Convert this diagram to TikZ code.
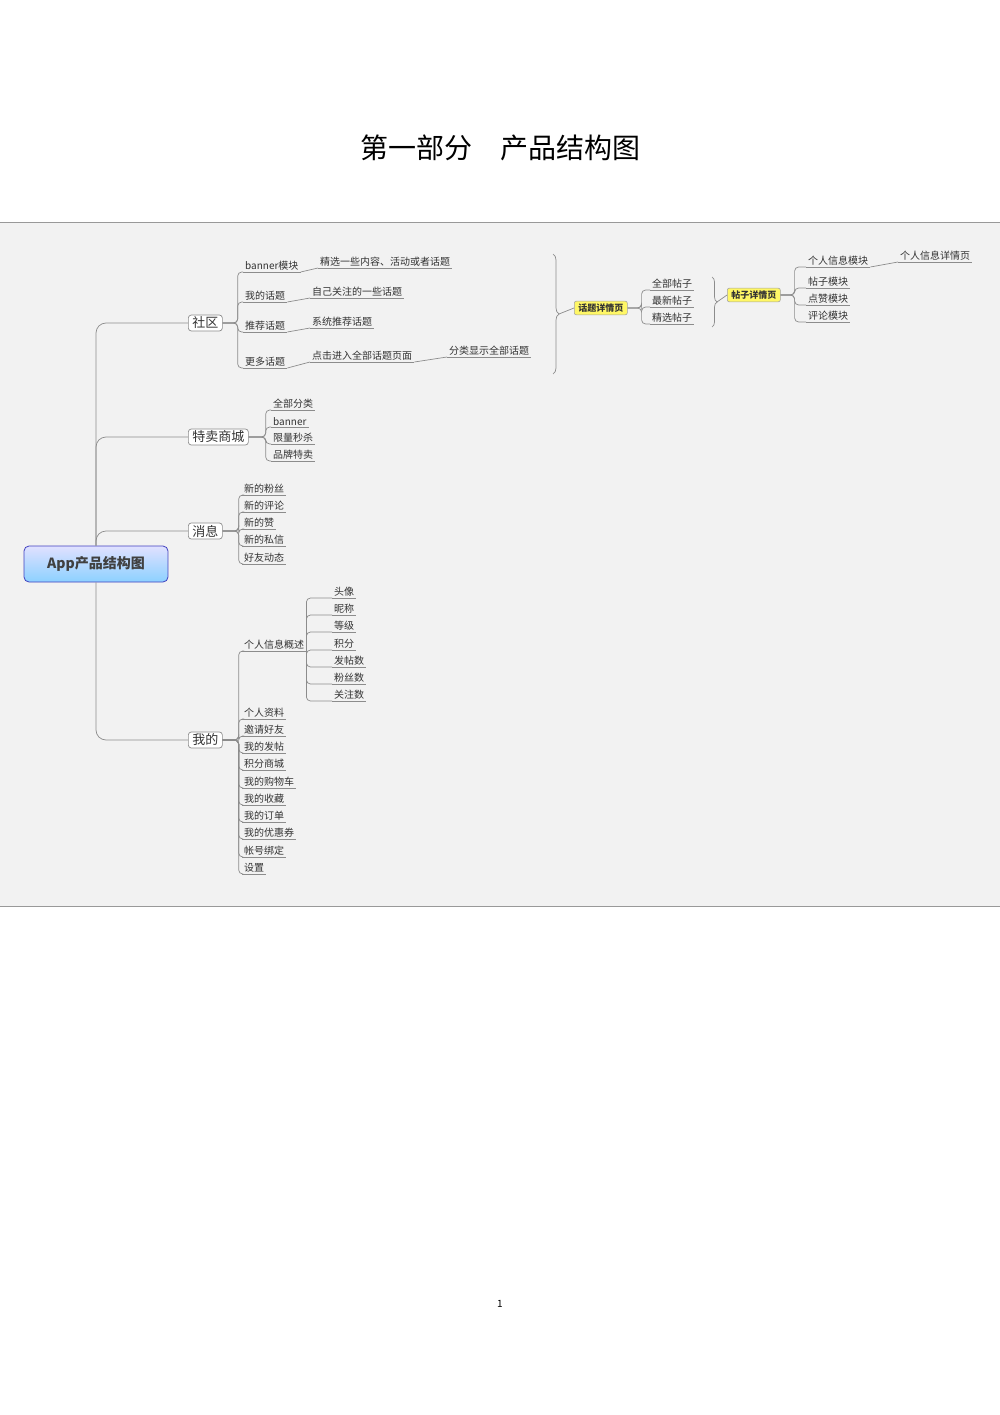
\documentclass[tikz,border=0pt]{standalone}
\usepackage{fontspec}
\setmainfont{Noto Sans CJK SC}
\usetikzlibrary{decorations.pathreplacing}
\definecolor{ln}{HTML}{8C8C8C}
\definecolor{tx}{HTML}{333333}
\tikzset{
 leaf/.style={inner xsep=2pt,inner ysep=1.5pt,font=\fontsize{10}{11}\selectfont,text=tx},
 ul/.style={draw=ln,line width=0.7pt},
 conn/.style={draw=ln,line width=0.7pt,rounded corners=4pt},
 lone/.style={draw=ln,line width=0.7pt,rounded corners=3pt,fill=white,inner xsep=4pt,inner ysep=2pt,font=\fontsize{13}{14}\selectfont,text=tx},
 ybox/.style={draw=ln!80,line width=0.6pt,rounded corners=2pt,fill=yellow!60!white,inner xsep=4pt,inner ysep=2.5pt,font=\bfseries\fontsize{9}{10}\selectfont,text=tx},
 brc/.style={draw=ln,line width=0.7pt,decorate,decoration={brace,amplitude=6pt}}
}
\newcommand\lf[4]{\node[leaf,anchor=south west] (#1) at (#2,#3) {#4};\draw[ul] (#1.south west) -- (#1.south east);}
\newcommand\cn[3]{\draw[conn] (#1) -- ++(#2,0) |- (#3.south west);}
\begin{document}
\begin{tikzpicture}[x=1pt,y=-1pt]
\useasboundingbox (0,0) rectangle (1000,1415);
\fill[white] (0,0) rectangle (1000,1415);
\fill[black!5] (0,222) rectangle (1000,906);
\draw[black!40] (0,222) -- (1000,222) (0,906) -- (1000,906);
\node[font=\fontsize{28}{30}\selectfont] (title) at (500,148) {第一部分\hspace{1em}产品结构图};
\node[font=\fontsize{10}{12}\selectfont] (pg) at (500,1304) {1};
% root
\node[draw=blue!50!gray,line width=0.8pt,rounded corners=5pt,top color=blue!12,bottom color=blue!40!cyan!45,minimum width=144pt,minimum height=36pt,font=\bfseries\fontsize{14}{15}\selectfont,text=black!75] (root) at (96,564) {App产品结构图};
\node[lone,anchor=west] (sq) at (188,323) {社区};
\node[lone,anchor=west] (tm) at (188,437) {特卖商城};
\node[lone,anchor=west] (xx) at (188,531) {消息};
\node[lone,anchor=west] (wd) at (188,740) {我的};
\draw[conn,rounded corners=10pt] (root.north) |- (sq.west);
\draw[conn,rounded corners=10pt] (root.north) |- (tm.west);
\draw[conn,rounded corners=10pt] (root.north) |- (xx.west);
\draw[conn,rounded corners=10pt] (root.south) |- (wd.west);
% 社区
\lf{s1}{243}{272}{banner模块}
\lf{s2}{243}{302}{我的话题}
\lf{s3}{243}{332}{推荐话题}
\lf{s4}{243}{368}{更多话题}
\foreach \c in {s1,s2,s3,s4}{\cn{sq.east}{15}{\c}}
\lf{s1a}{318}{268}{精选一些内容、活动或者话题}
\lf{s2a}{310}{298}{自己关注的一些话题}
\lf{s3a}{310}{328}{系统推荐话题}
\lf{s4a}{310}{362}{点击进入全部话题页面}
\lf{s4b}{447}{357}{分类显示全部话题}
\draw[conn] (s1.south east) -- (s1a.south west);
\draw[conn] (s2.south east) -- (s2a.south west);
\draw[conn] (s3.south east) -- (s3a.south west);
\draw[conn] (s4.south east) -- (s4a.south west);
\draw[conn] (s4a.south east) -- (s4b.south west);
\coordinate (b1t) at (553,254); \coordinate (b1b) at (553,374);
\draw[brc] (b1t) -- (b1b);
\node[ybox,anchor=west] (htx) at (574,308) {话题详情页};
\draw[conn] (559,314) -- (htx.west);
\lf{h1}{650}{290}{全部帖子}
\lf{h2}{650}{307}{最新帖子}
\lf{h3}{650}{324}{精选帖子}
\foreach \c in {h1,h2,h3}{\cn{htx.east}{14}{\c}}
\coordinate (b2t) at (712,277); \coordinate (b2b) at (712,327);
\draw[brc,decoration={brace,amplitude=5pt}] (b2t) -- (b2b);
\node[ybox,anchor=west] (tzx) at (727,295) {帖子详情页};
\draw[conn] (717,302) -- (tzx.west);
\lf{t1}{806}{267}{个人信息模块}
\lf{t2}{806}{288}{帖子模块}
\lf{t3}{806}{305}{点赞模块}
\lf{t4}{806}{322}{评论模块}
\foreach \c in {t1,t2,t3,t4}{\cn{tzx.east}{14}{\c}}
\lf{t1a}{898}{262}{个人信息详情页}
\draw[conn] (t1.south east) -- (t1a.south west);
% 特卖商城
\lf{m1}{271}{410}{全部分类}
\lf{m2}{271}{427}{banner}
\lf{m3}{271}{444}{限量秒杀}
\lf{m4}{271}{461}{品牌特卖}
\foreach \c in {m1,m2,m3,m4}{\cn{tm.east}{17}{\c}}
% 消息
\lf{x1}{242}{495}{新的粉丝}
\lf{x2}{242}{512}{新的评论}
\lf{x3}{242}{529}{新的赞}
\lf{x4}{242}{546}{新的私信}
\lf{x5}{242}{564}{好友动态}
\foreach \c in {x1,x2,x3,x4,x5}{\cn{xx.east}{16}{\c}}
% 我的
\lf{w0}{242}{651}{个人信息概述}
\lf{w1}{242}{719}{个人资料}
\lf{w2}{242}{736}{邀请好友}
\lf{w3}{242}{753}{我的发帖}
\lf{w4}{242}{770}{积分商城}
\lf{w5}{242}{788}{我的购物车}
\lf{w6}{242}{805}{我的收藏}
\lf{w7}{242}{822}{我的订单}
\lf{w8}{242}{839}{我的优惠券}
\lf{w9}{242}{857}{帐号绑定}
\lf{w10}{242}{874}{设置}
\foreach \c in {w0,w1,w2,w3,w4,w5,w6,w7,w8,w9,w10}{\cn{wd.east}{16}{\c}}
\lf{p1}{332}{598}{头像}
\lf{p2}{332}{615}{昵称}
\lf{p3}{332}{632}{等级}
\lf{p4}{332}{650}{积分}
\lf{p5}{332}{667}{发帖数}
\lf{p6}{332}{684}{粉丝数}
\lf{p7}{332}{701}{关注数}
\foreach \c in {p1,p2,p3,p4,p5,p6,p7}{\draw[conn] (w0.south east) |- (\c.south west);}
\end{tikzpicture}
\end{document}
